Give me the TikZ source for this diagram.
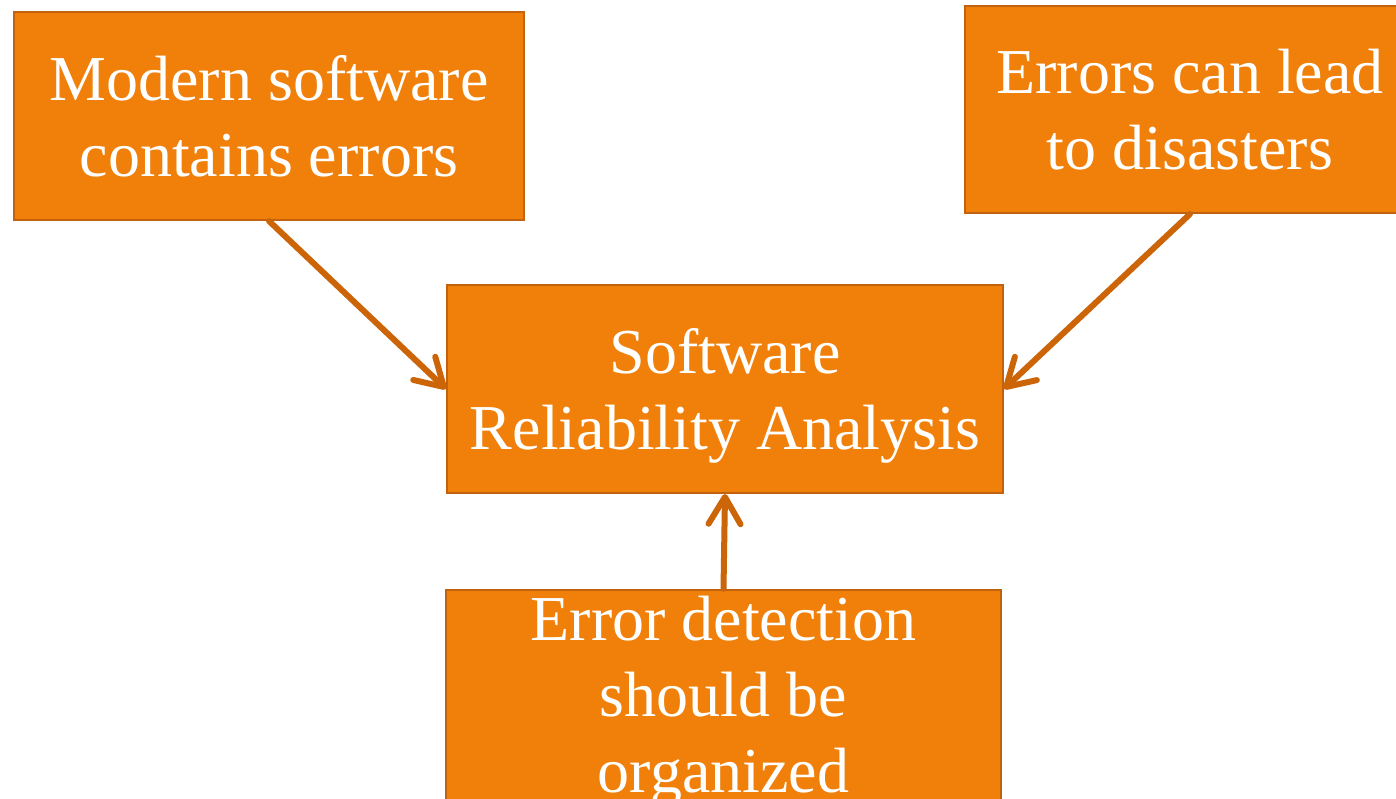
\documentclass[tikz,border=0pt]{standalone}
\usepackage{fontspec}
\setmainfont{Liberation Serif}
\usetikzlibrary{arrows.meta}
\definecolor{boxfill}{HTML}{F0800A}
\definecolor{boxline}{HTML}{C0620E}
\definecolor{arrowcol}{HTML}{CC6408}
% lower the text inside a box without changing the size it reports
\newcommand{\droptext}[2]{\raisebox{-#1}[\height][\depth]{#2}}
\tikzset{
  box/.style={rectangle, fill=boxfill, draw=boxline, line width=2pt,
    text=white, align=center, inner sep=0pt,
    font=\fontsize{64}{76}\selectfont},
  link/.style={draw=arrowcol, line width=6pt, line cap=round,
    -{Straight Barb[length=27pt, width=32pt, line cap=round, line join=round]}}
}
\begin{document}
\begin{tikzpicture}[x=1pt, y=1pt]
  \useasboundingbox (0,0) rectangle (1396,-798);
  \clip (0,0) rectangle (1396,-798);
  \node[box, minimum width=510pt, minimum height=208pt] (modern) at (269,-116)
    {Modern software\\contains errors};
  \node[box, minimum width=450pt, minimum height=207pt] (disaster) at (1190,-109.5)
    {Errors can lead\\to disasters};
  \node[box, minimum width=556pt, minimum height=208pt] (sra) at (725,-389)
    {\droptext{7pt}{\parbox{556pt}{\centering Software\\Reliability Analysis}}};
  \node[box, minimum width=555pt, minimum height=208pt] (detect) at (723.5,-695)
    {\droptext{6pt}{\parbox{555pt}{\centering Error detection\\should be\\organized}}};
  \draw[link] (modern.south) -- (sra.west);
  \draw[link] (disaster.south) -- (sra.east);
  \draw[link] (detect.north) -- (sra.south);
\end{tikzpicture}
\end{document}
